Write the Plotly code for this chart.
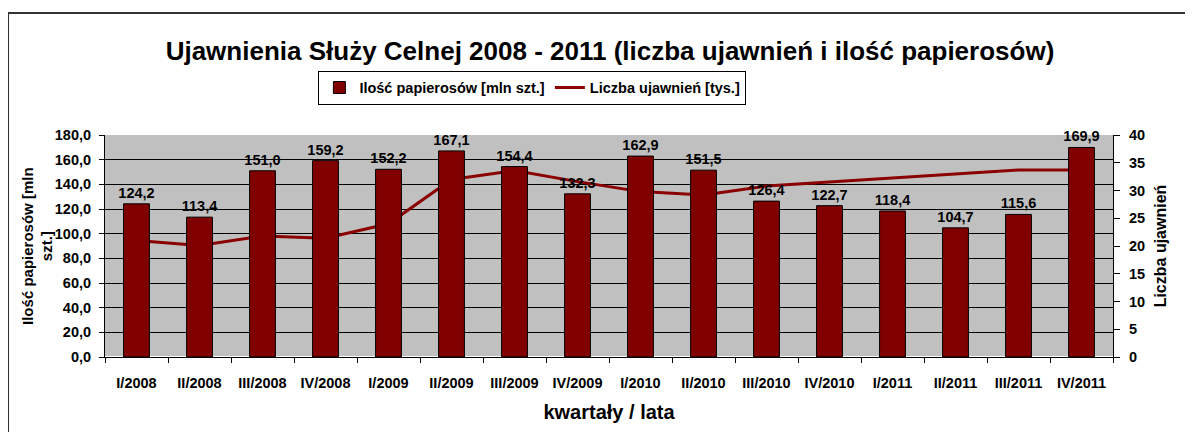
import plotly.graph_objects as go

# quarters and values
quarters = ["I/2008", "II/2008", "III/2008", "IV/2008",
            "I/2009", "II/2009", "III/2009", "IV/2009",
            "I/2010", "II/2010", "III/2010", "IV/2010",
            "I/2011", "II/2011", "III/2011", "IV/2011"]
cigarettes = [124.2, 113.4, 151.0, 159.2, 152.2, 167.1, 154.4, 132.3,
              162.9, 151.5, 126.4, 122.7, 118.4, 104.7, 115.6, 169.9]
seizures = [21.0, 20.1, 21.8, 21.4, 24.0, 32.0, 33.6, 31.6,
            29.8, 29.2, 30.8, 31.5, 32.3, 32.9, 33.7, 33.7]

FONT = "Liberation Sans, Arial, sans-serif"
RED = "#800000"
SMALL = 14.5

labels = [f"{v:.1f}".replace(".", ",") for v in cigarettes]

fig = go.Figure()

# bars sit on the overlaying axis so they are drawn above the line, like in the original
fig.add_trace(go.Bar(
    x=quarters, y=cigarettes, name="Ilość papierosów [mln szt.]",
    yaxis="y2", width=0.41,
    marker=dict(color=RED, line=dict(color="black", width=1)),
    text=labels, textposition="outside", cliponaxis=False, constraintext="none",
    textfont=dict(family=FONT, size=SMALL, color="black", weight="bold"),
))
fig.add_trace(go.Scatter(
    x=quarters, y=seizures, name="Liczba ujawnień [tys.]",
    mode="lines", yaxis="y", line=dict(color="#8B0000", width=3),
))

# page body adds an 8px offset, margins are set so the plot area lands where the original has it
fig.update_layout(
    width=1193, height=432,
    margin=dict(l=97, r=88, t=127, b=83, autoexpand=False),
    paper_bgcolor="white", plot_bgcolor="#C0C0C0",
    separators=", ",
    font=dict(family=FONT, size=SMALL, color="black", weight="bold"),
    title=dict(text="Ujawnienia Służy Celnej 2008 - 2011 (liczba ujawnień i ilość papierosów)",
               x=0.5046, xanchor="center", y=0.9, yanchor="middle",
               font=dict(family=FONT, size=26, color="black", weight="bold")),
    showlegend=True,
    legend=dict(orientation="h", x=0.424, xanchor="center", y=1.29, yanchor="top",
                bordercolor="black", borderwidth=1, bgcolor="white",
                font=dict(family=FONT, size=SMALL, weight="bold"),
                itemwidth=30, tracegroupgap=0),
    xaxis=dict(type="category", showline=True, linecolor="black", linewidth=1,
               ticks="outside", tickson="boundaries", ticklen=5, tickcolor="black",
               showgrid=False, ticklabelstandoff=13,
               tickfont=dict(family=FONT, size=SMALL, weight="bold"),
               title=dict(text="kwartały / lata", standoff=14,
                          font=dict(family=FONT, size=20, weight="bold"))),
    yaxis=dict(side="right", range=[0, 40], dtick=5, showgrid=False,
               showline=True, linecolor="black", linewidth=1,
               ticks="outside", ticklen=6, tickcolor="black", ticklabelstandoff=6,
               tickfont=dict(family=FONT, size=SMALL, weight="bold"),
               title=dict(text="Liczba ujawnień", standoff=10,
                          font=dict(family=FONT, size=16, weight="bold"))),
    yaxis2=dict(side="left", overlaying="y", range=[0, 180], dtick=20,
                tickformat=".1f", showgrid=True, gridcolor="black", gridwidth=1,
                showline=True, linecolor="black", linewidth=1,
                ticks="outside", ticklen=5, tickcolor="black", ticklabelstandoff=5,
                tickfont=dict(family=FONT, size=SMALL, weight="bold")),
    annotations=[dict(text="Ilość papierosów [mln<br>szt.]", textangle=-90,
                      xref="paper", yref="paper", x=-0.0675, y=0.5,
                      xanchor="center", yanchor="middle", showarrow=False,
                      font=dict(family=FONT, size=15, weight="bold"))],
    shapes=[dict(type="rect", xref="paper", yref="paper",
                 x0=-0.0962, x1=1.2, y0=-0.6, y1=1.5495,
                 line=dict(color="#333333", width=2), layer="below")],
)

fig.write_html("out.html")
